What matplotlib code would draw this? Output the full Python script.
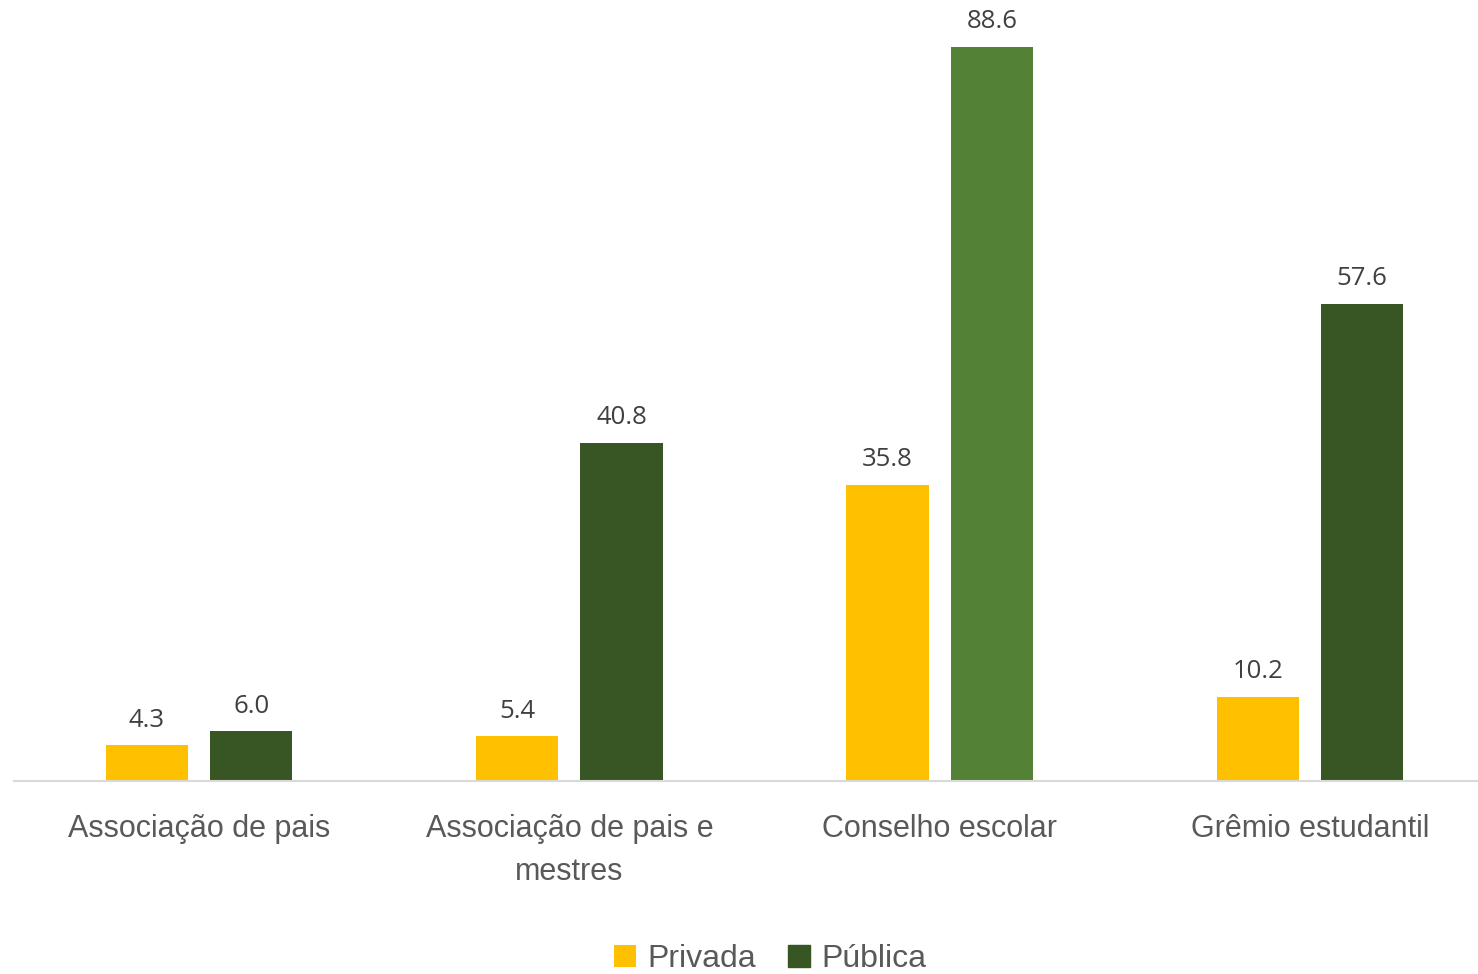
import matplotlib
matplotlib.use('Agg')
import matplotlib.pyplot as plt
import numpy as np

categorias = ['Associação de pais', 'Associação de pais e\nmestres',
              'Conselho escolar', 'Grêmio estudantil']
privada = [4.3, 5.4, 35.8, 10.2]
publica = [6.0, 40.8, 88.6, 57.6]

cor_privada = '#FFC000'
cores_publica = ['#375623', '#375623', '#538135', '#375623']

fig = plt.figure(figsize=(14.78, 9.74), dpi=100)
ax = fig.add_axes([14 / 1478, 193 / 974, 1481 / 1478, 781 / 974])

x = np.arange(len(categorias))
w = 0.222
b1 = ax.bar(x - 0.141, privada, w, color=cor_privada, label='Privada')
b2 = ax.bar(x + 0.141, publica, w, color=cores_publica, label='Pública')

for bars, vals in [(b1, privada), (b2, publica)]:
    for r, v in zip(bars, vals):
        ax.annotate(f'{v:.1f}', (r.get_x() + r.get_width() / 2, v),
                    xytext=(0, 13.5), textcoords='offset points',
                    ha='center', va='baseline', fontsize=18.5,
                    color='#404040', family=['Open Sans', 'DejaVu Sans'])

ax.set_xlim(-0.5, 3.5)
ax.set_ylim(0, 94.3)
ax.set_xticks(x)
ax.set_xticklabels(categorias, fontsize=22, color='#595959',
                   family=['Liberation Sans', 'DejaVu Sans'],
                   linespacing=1.55)
ax.tick_params(axis='x', length=0, pad=24)
ax.set_yticks([])
for s in ['top', 'left', 'right']:
    ax.spines[s].set_visible(False)
ax.spines['bottom'].set_color('#D9D9D9')
ax.spines['bottom'].set_linewidth(1.5)

leg = fig.legend(handles=[b1, b2], labels=['Privada', 'Pública'],
                 loc='center', bbox_to_anchor=(770 / 1478, 1 - 959 / 974),
                 ncol=2, frameon=False, handlelength=0.7, handleheight=0.7,
                 handletextpad=0.35, columnspacing=1.0,
                 prop={'family': ['Liberation Sans', 'DejaVu Sans'], 'size': 23})
for t in leg.get_texts():
    t.set_color('#595959')
leg.legend_handles[1].set_color('#375623')

fig.savefig('out.png', dpi=100)
